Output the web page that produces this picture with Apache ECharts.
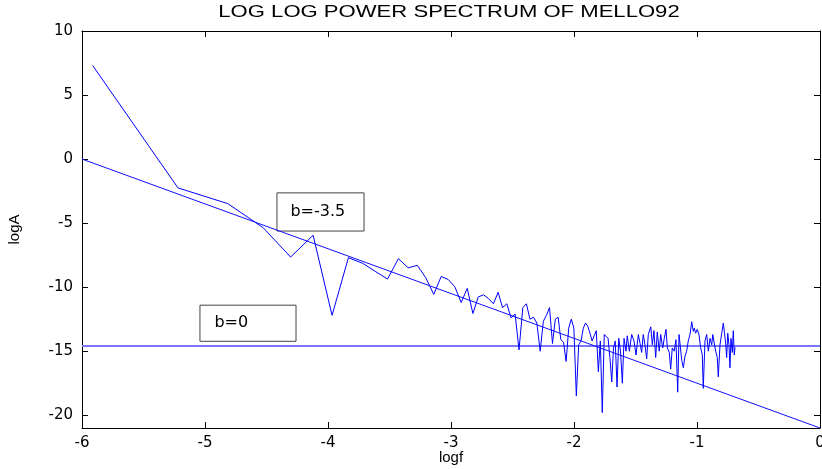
<!DOCTYPE html>
<html>
<head>
<meta charset="utf-8">
<script src="https://cdn.jsdelivr.net/npm/echarts@6/dist/echarts.min.js"></script>
<style>html,body{margin:0;padding:0;background:#fff}#c{width:822px;height:469px}</style>
</head>
<body>
<div id="c"></div>
<script>
// ---- data ----
const logf = [-5.913,-5.220,-4.815,-4.527,-4.304,-4.121,-3.967,-3.834,-3.716,-3.611,-3.516,-3.428,-3.348,-3.274,-3.205,-3.140,-3.080,-3.023,-2.969,-2.917,-2.868,-2.822,-2.778,-2.735,-2.694,-2.655,-2.617,-2.581,-2.546,-2.512,-2.479,-2.447,-2.416,-2.387,-2.358,-2.329,-2.302,-2.275,-2.249,-2.224,-2.199,-2.175,-2.152,-2.129,-2.107,-2.085,-2.064,-2.043,-2.022,-2.001,-1.981,-1.962,-1.943,-1.924,-1.906,-1.888,-1.870,-1.853,-1.836,-1.819,-1.802,-1.786,-1.770,-1.754,-1.739,-1.723,-1.708,-1.693,-1.679,-1.665,-1.650,-1.636,
-1.622,-1.607,-1.593,-1.577,-1.567,-1.550,-1.531,-1.512,-1.496,-1.477,-1.463,-1.450,-1.437,-1.423,-1.409,-1.396,-1.376,-1.363,-1.350,-1.336,-1.323,-1.307,-1.295,-1.279,-1.266,-1.252,-1.241,-1.225,-1.214,-1.201,-1.185,-1.171,-1.157,-1.146,
-1.138,-1.124,-1.111,-1.098,-1.084,-1.071,-1.057,-1.043,-1.030,-1.022,-1.011,-0.998,-0.984,-0.970,-0.957,-0.949,-0.935,-0.921,-0.908,-0.894,-0.880,-0.872,-0.859,-0.848,-0.835,-0.827,-0.813,-0.799,-0.786,-0.778,-0.767,-0.759,-0.750,-0.740,-0.732,-0.724,-0.713,-0.705,-0.697,-0.691];
const logA = [7.3,-2.25,-3.48,-5.36,-7.65,-5.95,-12.2,-7.7,-8.15,-8.8,-9.37,-7.78,-8.49,-8.3,-9.27,-10.57,-9.17,-9.4,-9.97,-11.2,-10.1,-12.06,-10.76,-10.6,-10.9,-11.3,-10.4,-11.6,-11.3,-12.4,-12.1,-14.9,-11.6,-11.3,-12.5,-12.35,-12.8,-15.0,-12.66,-12.2,-11.6,-14.4,-12.5,-12.35,-14.1,-14.3,-15.8,-13.2,-12.5,-13.2,-18.5,-14.5,-14.2,-13.2,-12.8,-13.05,-13.6,-14.2,-13.8,-13.4,-16.6,-14.2,-19.8,-13.7,-13.8,-14.0,-15.5,-17.4,-14.75,-14.2,-17.8,-14.0,
-15.0,-17.5,-14.0,-15.0,-13.8,-15.0,-13.7,-14.2,-15.3,-13.7,-14.4,-15.1,-13.7,-14.5,-15.6,-13.7,-13.1,-14.5,-13.4,-15.5,-13.5,-15.0,-13.7,-14.75,-14.0,-13.3,-14.75,-15.1,-16.4,-14.75,-15.0,-14.1,-18.2,-13.7,
-13.6,-15.7,-16.3,-15.4,-15.0,-14.2,-13.7,-12.7,-13.45,-13.2,-13.6,-13.3,-13.7,-14.75,-15.3,-17.9,-14.2,-13.7,-15.0,-14.0,-14.5,-13.7,-13.8,-15.0,-15.5,-17.0,-14.5,-13.6,-12.8,-13.45,-14.4,-15.5,-13.6,-14.5,-16.3,-14.0,-15.1,-13.4,-15.3,-14.7];
const fitX = [-6, 0];          // b = -3.5 fit line
const fitY = [0, -21];
const flatX = [-6, 0];         // b = 0 level
const flatY = [-14.6, -14.6];
const xTicks = [-6, -5, -4, -3, -2, -1, 0];
const yTicks = [-20, -15, -10, -5, 0, 5, 10];
const boxLabels = ['b=-3.5', 'b=0'];

// annotation boxes (data coordinates)
const boxCorners = [
  [[-4.415, -2.64], [-3.707, -5.62]],
  [[-5.041, -11.41], [-4.260, -14.23]]
];

const chart = echarts.init(document.getElementById('c'));
const axisCommon = {
  type: 'value',
  axisLine: { show: true, onZero: false, lineStyle: { color: '#000', width: 1 } },
  axisTick: { show: true, inside: true, length: 6, lineStyle: { color: '#000' } },
  splitLine: { show: false }
};
const labelFont = { color: '#000', fontSize: 15, fontFamily: 'DejaVu Sans' };

chart.setOption({
  animation: false,
  backgroundColor: '#fff',
  grid: { left: 82, right: 2, top: 31, bottom: 41, containLabel: false, outerBoundsMode: 'none' },
  graphic: [{
    type: 'text', x: 449, y: 13, scaleX: 1.38,
    style: { text: 'LOG LOG POWER SPECTRUM OF MELLO92', font: '16px "Liberation Sans"',
             fill: '#000', textAlign: 'center', textVerticalAlign: 'middle' }
  }],
  xAxis: [
    Object.assign({}, axisCommon, {
      position: 'bottom', min: -6, max: 0, interval: 1,
      axisLabel: Object.assign({ margin: 8, formatter: v => String(v),
        customValues: xTicks }, labelFont),
      axisTick: Object.assign({}, axisCommon.axisTick, { customValues: xTicks }),
      name: 'logf', nameLocation: 'middle', nameGap: 22, nameMoveOverlap: false,
      nameTextStyle: { color: '#000', fontSize: 15, fontFamily: 'Liberation Sans', verticalAlign: 'top' }
    }),
    Object.assign({}, axisCommon, {
      position: 'top', min: -6, max: 0, interval: 1,
      axisLabel: { show: false },
      axisTick: Object.assign({}, axisCommon.axisTick, { customValues: xTicks })
    })
  ],
  yAxis: [
    Object.assign({}, axisCommon, {
      position: 'left', min: -21, max: 10,
      axisLabel: Object.assign({ margin: 9, customValues: yTicks }, labelFont),
      axisTick: Object.assign({}, axisCommon.axisTick, { customValues: yTicks }),
      name: 'logA', nameLocation: 'middle', nameGap: 60, nameMoveOverlap: false,
      nameTextStyle: { color: '#000', fontSize: 15, fontFamily: 'Liberation Sans' }
    }),
    Object.assign({}, axisCommon, {
      position: 'right', min: -21, max: 10,
      axisLabel: { show: false },
      axisTick: Object.assign({}, axisCommon.axisTick, { customValues: yTicks })
    })
  ],
  series: [
    {
      type: 'line', name: 'flat', showSymbol: false, silent: true,
      data: flatX.map((x, i) => [x, flatY[i]]),
      lineStyle: { color: '#7878ff', width: 2 }
    },
    {
      type: 'line', name: 'fit', showSymbol: false, silent: true,
      data: fitX.map((x, i) => [x, fitY[i]]),
      lineStyle: { color: '#1010ff', width: 1 },
      markArea: {
        silent: true,
        itemStyle: { color: 'rgba(255,255,255,0)', borderColor: '#444', borderWidth: 1 },
        label: { show: true, position: 'insideLeft', color: '#000', fontSize: 16, fontFamily: 'DejaVu Sans' },
        data: boxCorners.map((c, i) => [
          { coord: c[0], name: boxLabels[i], label: { distance: i === 0 ? 14 : 15 } },
          { coord: c[1] }
        ])
      }
    },
    {
      type: 'line', name: 'spectrum', showSymbol: false, silent: true,
      data: logf.map((x, i) => [x, logA[i]]),
      lineStyle: { color: '#0000ff', width: 1 }
    }
  ]
});
</script>
</body>
</html>
